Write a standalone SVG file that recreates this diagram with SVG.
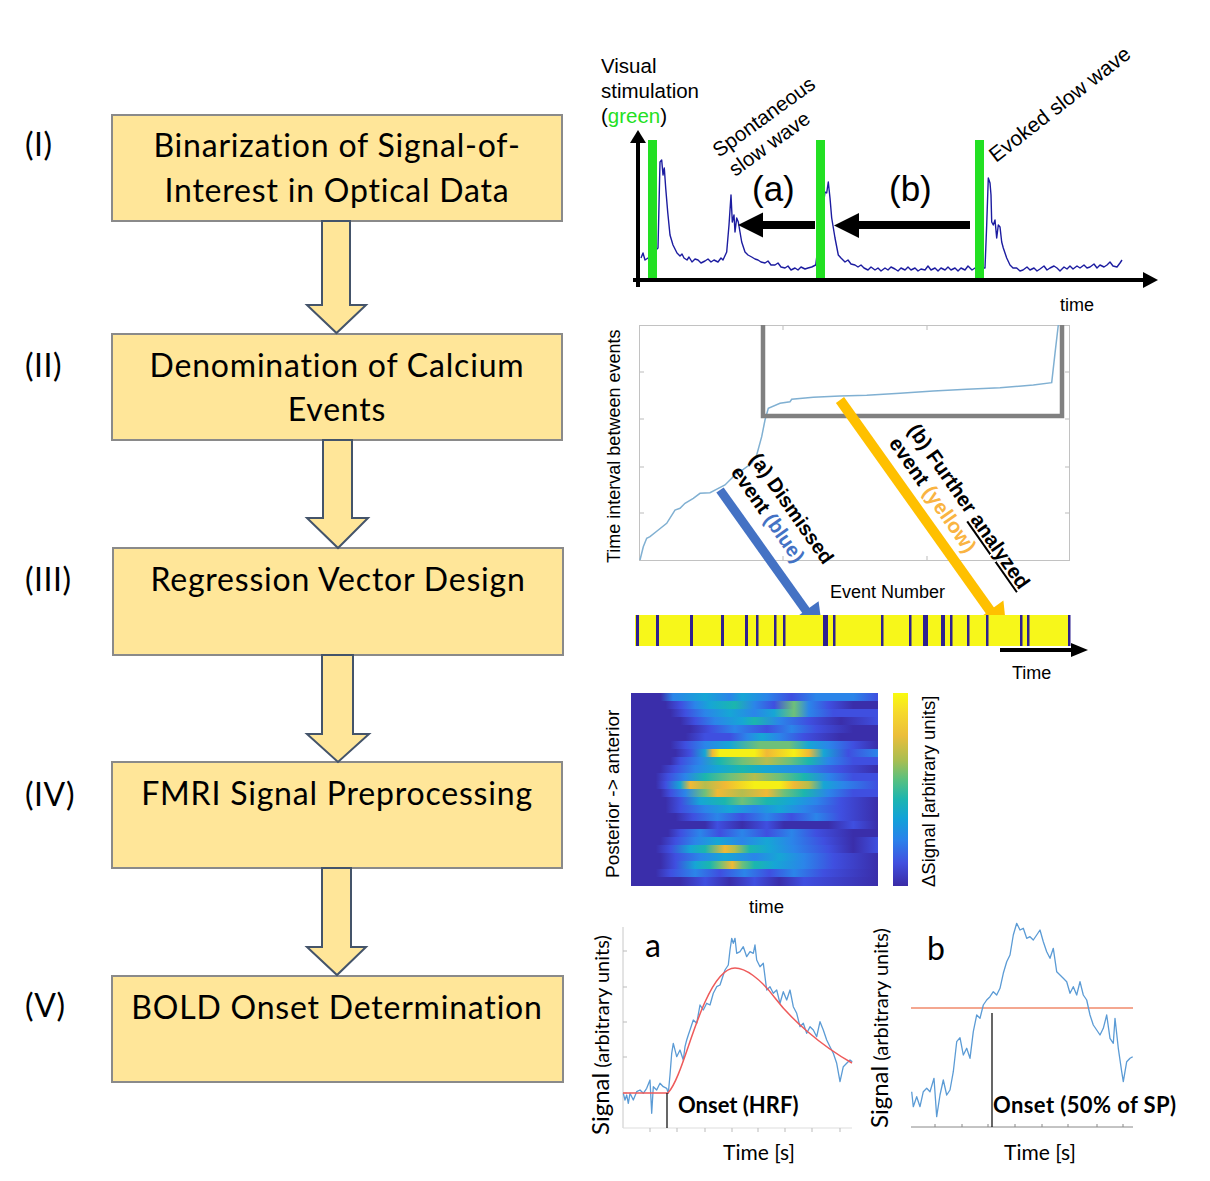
<svg xmlns="http://www.w3.org/2000/svg" width="1210" height="1181" viewBox="0 0 1210 1181">
<style>
.box{fill:#FFE699;stroke:#8A8A8A;stroke-width:2}
.blk{fill:#FFE699;stroke:#44546A;stroke-width:2;stroke-linejoin:miter}
.lbl{font-family:Lato,"Open Sans",sans-serif;font-size:32px;fill:#000;letter-spacing:0.5px}
.bt{font-family:Lato,"Open Sans",sans-serif;font-size:32px;fill:#000;text-anchor:middle;letter-spacing:0.8px}
.ar{font-family:"Liberation Sans",Arial,sans-serif;fill:#000}
.cal{font-family:Lato,"Open Sans",sans-serif;fill:#000}
.trace{fill:none;stroke:#1C1CA0;stroke-width:1.4;stroke-linejoin:round}
.sig{fill:none;stroke:#5B9BD5;stroke-width:1.3;stroke-linejoin:round}
.tick{stroke:#BBBBBB;stroke-width:1}
</style>
<defs>
<linearGradient id="cbar" x1="0" y1="0" x2="0" y2="1">
<stop offset="0" stop-color="#F9FB0E"/><stop offset="0.1" stop-color="#F6D92C"/><stop offset="0.22" stop-color="#EBBE3A"/><stop offset="0.35" stop-color="#A8BE52"/><stop offset="0.45" stop-color="#58C080"/><stop offset="0.55" stop-color="#1DB5B0"/><stop offset="0.65" stop-color="#12A2D8"/><stop offset="0.76" stop-color="#2A82EB"/><stop offset="0.88" stop-color="#4150DF"/><stop offset="1" stop-color="#3A2BA6"/>
</linearGradient>
</defs>

<!-- Left flowchart nodes -->
<g id="label-I"><text class="lbl" x="25" y="156">(I)</text></g>
<g id="label-II"><text class="lbl" x="25" y="377">(II)</text></g>
<g id="label-III"><text class="lbl" x="25" y="591">(III)</text></g>
<g id="label-IV"><text class="lbl" x="25" y="806">(IV)</text></g>
<g id="label-V"><text class="lbl" x="25" y="1017">(V)</text></g>

<g id="node-1"><rect class="box" x="112" y="115" width="450" height="106"/><text class="bt" x="337" y="157">Binarization of Signal-of-</text><text class="bt" x="337" y="202">Interest in Optical Data</text></g>
<g id="node-2"><rect class="box" x="112" y="334" width="450" height="106"/><text class="bt" x="337" y="377">Denomination of Calcium</text><text class="bt" x="337" y="421">Events</text></g>
<g id="node-3"><rect class="box" x="113" y="548" width="450" height="107"/><text class="bt" x="338" y="591">Regression Vector Design</text></g>
<g id="node-4"><rect class="box" x="112" y="762" width="450" height="106"/><text class="bt" x="337" y="805">FMRI Signal Preprocessing</text></g>
<g id="node-5"><rect class="box" x="112" y="976" width="451" height="106"/><text class="bt" x="337" y="1019">BOLD Onset Determination</text></g>

<g id="connectors">
<polygon class="blk" points="322,221 350,221 350,305 366,305 336.5,333 307,305 322,305"/>
<polygon class="blk" points="323,440 352,440 352,518 368,518 338,548 307,518 323,518"/>
<polygon class="blk" points="322,655 353,655 353,734 369,734 338,762 307,734 322,734"/>
<polygon class="blk" points="322,868 351,868 351,947 366,947 337,975 307,947 322,947"/>
</g>

<!-- Panel I: optical signal -->
<g id="panel-optical">
<text class="ar" x="601" y="73" font-size="20.5">Visual</text>
<text class="ar" x="601" y="98" font-size="20.5">stimulation</text>
<text class="ar" x="601" y="123" font-size="20.5">(<tspan fill="#22E022">green</tspan>)</text>
<polyline class="trace" points="641,258 643,253 645,260 648,258 658,248 660,162 661.7,160 663,175 664.3,168 665.7,188 667.7,212 670,235 673,245 677,253 680,256 682,254 684,258 687,260 689,257 692,262 695,259 698,260 701,263 705,261 708,259 711,262 714,260 718,262 721,258 723,260 726.7,252 729,225 731,195 732.3,222 734,215 735,232 736.7,218 738.3,222 740,232 741.7,242 745,252 748,255 751.7,257 755,259 758,260 761,262 765,263 768,261 771,265 775,265 778,263 781,267 785,268 788,266 791,270 795,268 798,270 801,267 805,269 808,268 811.7,267 815.7,265 825,192 826.7,193 828.3,182 830,198 831.7,218 835,238 838.3,255 841,258 845,262 848,260 851,264 855,265 858,267 861,265 864,268 868,270 871,267 875,270 878,268 881,271 885,268 888,270 891,267 895,269 898,271 901,268 905,270 908,267 911,270 915,268 918,271 921,269 925,270 928,266 931,270 935,268 938,271 941,268 945,270 948,267 951,270 955,268 958,271 961,268 965,270 968,266 972,270 975,268 985,268 986.7,225 988.3,178 990,183 991,195 991.7,222 993.3,225 995,220 996.7,238 998.3,225 1000,227 1001.7,242 1003.3,248 1006.7,258 1010,265 1013,268 1016.7,268 1020,271 1023,270 1027,267 1030,270 1034,268 1037,271 1040,269 1044,266 1047,270 1050,268 1054,266 1057,268 1060,271 1064,267 1067,269 1070,266 1073,269 1077,266 1080,268 1084,265 1087,268 1090,267 1094,264 1097,268 1100,265 1104,267 1107,265 1110,262 1113,266 1117,267 1120,263 1122,260"/>
<rect x="648" y="140" width="9" height="138" fill="#22E022"/>
<rect x="816" y="140" width="9" height="138" fill="#22E022"/>
<rect x="975" y="140" width="9" height="138" fill="#22E022"/>
<line x1="638" y1="141" x2="638" y2="287" stroke="#000" stroke-width="4"/>
<polygon points="638,130 646,143 630,143" fill="#000"/>
<line x1="633" y1="280" x2="1145" y2="280" stroke="#000" stroke-width="4"/>
<polygon points="1158,280 1143,272 1143,288" fill="#000"/>
<rect x="760" y="221" width="55" height="8" fill="#000"/>
<polygon points="738,225 763,212.5 763,237.5" fill="#000"/>
<rect x="856" y="221" width="114" height="8" fill="#000"/>
<polygon points="834,225.5 859,213 859,238" fill="#000"/>
<text class="ar" x="752" y="201" font-size="35">(a)</text>
<text class="ar" x="889" y="201" font-size="35">(b)</text>
<g transform="translate(719,158) rotate(-36)"><text class="ar" x="0" y="0" font-size="20.5">Spontaneous</text><text class="ar" x="2" y="25" font-size="20.5">slow wave</text></g>
<text class="ar" transform="translate(996,163) rotate(-38)" font-size="21">Evoked slow wave</text>
<text class="ar" x="1060" y="311" font-size="18">time</text>
</g>

<!-- Panel II: event intervals -->
<g id="panel-events">
<rect x="639.5" y="325.5" width="430" height="235" fill="none" stroke="#C2C2C2" stroke-width="1"/>
<path class="tick" d="M640,372h4M640,419h4M640,467h4M640,513h4M1069,372h-4M1069,419h-4M1069,467h-4M1069,513h-4M783,326v4M927,326v4M783,560v-4M927,560v-4"/>
<polyline fill="none" stroke="#80B0D2" stroke-width="1.5" points="640,560 643.3,546.7 646.7,538.3 650,536.7 658.3,530 666.7,523.3 675,510 680,508.3 685,503.3 693.3,498.3 700,493.3 710,492.7 718.3,488.3 725,485 731.7,478.3 736.7,472.7 743.3,469.3 751.7,463.3 756.7,455 761.7,436.7 765,420 768.3,408.3 780,403.3 790,401.7 791.7,399.3 813.3,397.3 840,396 866.7,395.3 900,393.3 933.3,391 966.7,389.3 1000,387.7 1033.3,385 1051.7,382.7 1055,353.3 1058.3,325"/>
<polyline fill="none" stroke="#808080" stroke-width="4.5" points="763,325 763,416 1062,416 1062,325"/>
<text class="ar" transform="translate(620,563) rotate(-90)" font-size="18">Time interval between events</text>
<line x1="720" y1="490" x2="807" y2="612" stroke="#4472C4" stroke-width="9"/>
<polygon points="823,635 792.6,619.8 818.6,601.2" fill="#4472C4"/>
<line x1="840" y1="400" x2="991" y2="612" stroke="#FFC000" stroke-width="10"/>
<polygon points="1007,635 975.8,620.4 1003.4,600.6" fill="#FFC000"/>
<g transform="translate(749,459) rotate(55)" class="ar" font-size="20" font-weight="bold"><text x="0" y="0">(a) Dismissed</text><text x="0" y="23">event <tspan fill="#4472C4">(blue)</tspan></text></g>
<g transform="translate(907,430) rotate(55)" class="ar" font-size="20.5" font-weight="bold"><text x="0" y="0">(b) Further <tspan text-decoration="underline">analyzed</tspan></text><text x="0" y="23">event <tspan fill="#F9B442">(yellow)</tspan></text></g>
<text class="ar" x="830" y="598" font-size="18">Event Number</text>
<rect x="635" y="615" width="435" height="31" fill="#F7F71A"/>
<g fill="#2E2090">
<rect x="636" y="615" width="3" height="31"/><rect x="656" y="615" width="3" height="31"/><rect x="690" y="615" width="3" height="31"/><rect x="721" y="615" width="3" height="31"/><rect x="745" y="615" width="3" height="31"/><rect x="756" y="615" width="2.5" height="31"/><rect x="774" y="615" width="2.5" height="31"/><rect x="783" y="615" width="2.5" height="31"/><rect x="823" y="615" width="5" height="31"/><rect x="833" y="615" width="2.5" height="31"/><rect x="881" y="615" width="2.5" height="31"/><rect x="909" y="615" width="2.5" height="31"/><rect x="923" y="615" width="5" height="31"/><rect x="941" y="615" width="4" height="31"/><rect x="950" y="615" width="2.5" height="31"/><rect x="967" y="615" width="2.5" height="31"/><rect x="986" y="615" width="2.5" height="31"/><rect x="1020" y="615" width="2.5" height="31"/><rect x="1027" y="615" width="2.5" height="31"/><rect x="1068" y="615" width="2.5" height="31"/>
</g>
<line x1="1000" y1="650" x2="1072" y2="650" stroke="#000" stroke-width="4"/>
<polygon points="1088,650 1071,643 1071,657" fill="#000"/>
<text class="ar" x="1012" y="679" font-size="18">Time</text>
</g>

<!-- Panel IV: heatmap -->
<g id="panel-heatmap">
<defs>
<linearGradient id="r0" gradientUnits="userSpaceOnUse" x1="631" x2="878" y1="0" y2="0"><stop offset="0" stop-color="#3A2EAA"/><stop offset=".12" stop-color="#3A2EAA"/><stop offset=".17" stop-color="#2B85E9"/><stop offset=".3" stop-color="#16A6D5"/><stop offset=".4" stop-color="#2B85E9"/><stop offset=".45" stop-color="#16A6D5"/><stop offset=".55" stop-color="#2B85E9"/><stop offset=".65" stop-color="#3F4FE0"/><stop offset=".75" stop-color="#2B85E9"/><stop offset=".9" stop-color="#2B85E9"/><stop offset="1" stop-color="#3F4FE0"/></linearGradient>
<linearGradient id="r1" gradientUnits="userSpaceOnUse" x1="631" x2="878" y1="0" y2="0"><stop offset="0" stop-color="#3A2EAA"/><stop offset=".14" stop-color="#3A2EAA"/><stop offset=".2" stop-color="#3F4FE0"/><stop offset=".26" stop-color="#2B85E9"/><stop offset=".32" stop-color="#16A6D5"/><stop offset=".42" stop-color="#1BB6AE"/><stop offset=".5" stop-color="#2B85E9"/><stop offset=".58" stop-color="#3F4FE0"/><stop offset=".66" stop-color="#6EC07A"/><stop offset=".72" stop-color="#2B85E9"/><stop offset=".8" stop-color="#3F4FE0"/><stop offset=".9" stop-color="#3A2EAA"/><stop offset="1" stop-color="#3A2EAA"/></linearGradient>
<linearGradient id="r2" gradientUnits="userSpaceOnUse" x1="631" x2="878" y1="0" y2="0"><stop offset="0" stop-color="#3A2EAA"/><stop offset=".16" stop-color="#3A2EAA"/><stop offset=".22" stop-color="#3F4FE0"/><stop offset=".3" stop-color="#2B85E9"/><stop offset=".4" stop-color="#16A6D5"/><stop offset=".5" stop-color="#2B85E9"/><stop offset=".58" stop-color="#16A6D5"/><stop offset=".66" stop-color="#6EC07A"/><stop offset=".72" stop-color="#2B85E9"/><stop offset=".82" stop-color="#3F4FE0"/><stop offset="1" stop-color="#3F4FE0"/></linearGradient>
<linearGradient id="r3" gradientUnits="userSpaceOnUse" x1="631" x2="878" y1="0" y2="0"><stop offset="0" stop-color="#3A2EAA"/><stop offset=".2" stop-color="#3A2EAA"/><stop offset=".26" stop-color="#3F4FE0"/><stop offset=".34" stop-color="#2B85E9"/><stop offset=".45" stop-color="#16A6D5"/><stop offset=".5" stop-color="#1BB6AE"/><stop offset=".6" stop-color="#2B85E9"/><stop offset=".72" stop-color="#3F4FE0"/><stop offset=".85" stop-color="#3A2EAA"/><stop offset="1" stop-color="#3F4FE0"/></linearGradient>
<linearGradient id="r4" gradientUnits="userSpaceOnUse" x1="631" x2="878" y1="0" y2="0"><stop offset="0" stop-color="#3A2EAA"/><stop offset=".24" stop-color="#3A2EAA"/><stop offset=".32" stop-color="#3F4FE0"/><stop offset=".42" stop-color="#2B85E9"/><stop offset=".55" stop-color="#3F4FE0"/><stop offset=".65" stop-color="#2B85E9"/><stop offset=".75" stop-color="#3F4FE0"/><stop offset=".9" stop-color="#3A2EAA"/><stop offset="1" stop-color="#3A2EAA"/></linearGradient>
<linearGradient id="r5" gradientUnits="userSpaceOnUse" x1="631" x2="878" y1="0" y2="0"><stop offset="0" stop-color="#3A2EAA"/><stop offset=".22" stop-color="#3A2EAA"/><stop offset=".3" stop-color="#3F4FE0"/><stop offset=".4" stop-color="#3F4FE0"/><stop offset=".47" stop-color="#2B85E9"/><stop offset=".53" stop-color="#16A6D5"/><stop offset=".6" stop-color="#2B85E9"/><stop offset=".7" stop-color="#3F4FE0"/><stop offset=".85" stop-color="#3A2EAA"/><stop offset="1" stop-color="#3A2EAA"/></linearGradient>
<linearGradient id="r6" gradientUnits="userSpaceOnUse" x1="631" x2="878" y1="0" y2="0"><stop offset="0" stop-color="#3A2EAA"/><stop offset=".16" stop-color="#3A2EAA"/><stop offset=".22" stop-color="#3F4FE0"/><stop offset=".3" stop-color="#2B85E9"/><stop offset=".4" stop-color="#16A6D5"/><stop offset=".52" stop-color="#6EC07A"/><stop offset=".64" stop-color="#6EC07A"/><stop offset=".72" stop-color="#16A6D5"/><stop offset=".8" stop-color="#2B85E9"/><stop offset=".9" stop-color="#3F4FE0"/><stop offset="1" stop-color="#3A2EAA"/></linearGradient>
<linearGradient id="r7" gradientUnits="userSpaceOnUse" x1="631" x2="878" y1="0" y2="0"><stop offset="0" stop-color="#3A2EAA"/><stop offset=".18" stop-color="#3A2EAA"/><stop offset=".24" stop-color="#3F4FE0"/><stop offset=".3" stop-color="#16A6D5"/><stop offset=".33" stop-color="#F0B936"/><stop offset=".36" stop-color="#F5F016"/><stop offset=".5" stop-color="#F5F016"/><stop offset=".55" stop-color="#F0B936"/><stop offset=".66" stop-color="#F5F016"/><stop offset=".72" stop-color="#F0B936"/><stop offset=".78" stop-color="#16A6D5"/><stop offset=".88" stop-color="#3F4FE0"/><stop offset="1" stop-color="#2B85E9"/></linearGradient>
<linearGradient id="r8" gradientUnits="userSpaceOnUse" x1="631" x2="878" y1="0" y2="0"><stop offset="0" stop-color="#3A2EAA"/><stop offset=".16" stop-color="#3A2EAA"/><stop offset=".2" stop-color="#3F4FE0"/><stop offset=".28" stop-color="#2B85E9"/><stop offset=".36" stop-color="#1BB6AE"/><stop offset=".45" stop-color="#6EC07A"/><stop offset=".55" stop-color="#B5BD4E"/><stop offset=".64" stop-color="#6EC07A"/><stop offset=".72" stop-color="#1BB6AE"/><stop offset=".8" stop-color="#2B85E9"/><stop offset=".9" stop-color="#3F4FE0"/><stop offset="1" stop-color="#3F4FE0"/></linearGradient>
<linearGradient id="r9" gradientUnits="userSpaceOnUse" x1="631" x2="878" y1="0" y2="0"><stop offset="0" stop-color="#3A2EAA"/><stop offset=".12" stop-color="#3A2EAA"/><stop offset=".18" stop-color="#3F4FE0"/><stop offset=".26" stop-color="#2B85E9"/><stop offset=".35" stop-color="#16A6D5"/><stop offset=".45" stop-color="#1BB6AE"/><stop offset=".55" stop-color="#16A6D5"/><stop offset=".7" stop-color="#2B85E9"/><stop offset=".85" stop-color="#3F4FE0"/><stop offset="1" stop-color="#3A2EAA"/></linearGradient>
<linearGradient id="r10" gradientUnits="userSpaceOnUse" x1="631" x2="878" y1="0" y2="0"><stop offset="0" stop-color="#3A2EAA"/><stop offset=".1" stop-color="#3A2EAA"/><stop offset=".15" stop-color="#3F4FE0"/><stop offset=".22" stop-color="#2B85E9"/><stop offset=".3" stop-color="#1BB6AE"/><stop offset=".4" stop-color="#6EC07A"/><stop offset=".5" stop-color="#B5BD4E"/><stop offset=".6" stop-color="#6EC07A"/><stop offset=".7" stop-color="#1BB6AE"/><stop offset=".8" stop-color="#2B85E9"/><stop offset=".9" stop-color="#3F4FE0"/><stop offset="1" stop-color="#3F4FE0"/></linearGradient>
<linearGradient id="r11" gradientUnits="userSpaceOnUse" x1="631" x2="878" y1="0" y2="0"><stop offset="0" stop-color="#3A2EAA"/><stop offset=".1" stop-color="#3A2EAA"/><stop offset=".14" stop-color="#3F4FE0"/><stop offset=".2" stop-color="#16A6D5"/><stop offset=".24" stop-color="#F0B936"/><stop offset=".3" stop-color="#B5BD4E"/><stop offset=".38" stop-color="#F0B936"/><stop offset=".5" stop-color="#F5F016"/><stop offset=".6" stop-color="#F5F016"/><stop offset=".66" stop-color="#F0B936"/><stop offset=".72" stop-color="#B5BD4E"/><stop offset=".78" stop-color="#16A6D5"/><stop offset=".86" stop-color="#2B85E9"/><stop offset="1" stop-color="#3F4FE0"/></linearGradient>
<linearGradient id="r12" gradientUnits="userSpaceOnUse" x1="631" x2="878" y1="0" y2="0"><stop offset="0" stop-color="#3A2EAA"/><stop offset=".12" stop-color="#3A2EAA"/><stop offset=".16" stop-color="#3F4FE0"/><stop offset=".22" stop-color="#2B85E9"/><stop offset=".3" stop-color="#6EC07A"/><stop offset=".35" stop-color="#F0B936"/><stop offset=".45" stop-color="#B5BD4E"/><stop offset=".55" stop-color="#F0B936"/><stop offset=".62" stop-color="#6EC07A"/><stop offset=".7" stop-color="#1BB6AE"/><stop offset=".8" stop-color="#2B85E9"/><stop offset=".9" stop-color="#3F4FE0"/><stop offset="1" stop-color="#3F4FE0"/></linearGradient>
<linearGradient id="r13" gradientUnits="userSpaceOnUse" x1="631" x2="878" y1="0" y2="0"><stop offset="0" stop-color="#3A2EAA"/><stop offset=".14" stop-color="#3A2EAA"/><stop offset=".2" stop-color="#3F4FE0"/><stop offset=".28" stop-color="#16A6D5"/><stop offset=".38" stop-color="#1BB6AE"/><stop offset=".45" stop-color="#6EC07A"/><stop offset=".55" stop-color="#1BB6AE"/><stop offset=".65" stop-color="#16A6D5"/><stop offset=".75" stop-color="#2B85E9"/><stop offset=".85" stop-color="#3F4FE0"/><stop offset="1" stop-color="#3A2EAA"/></linearGradient>
<linearGradient id="r14" gradientUnits="userSpaceOnUse" x1="631" x2="878" y1="0" y2="0"><stop offset="0" stop-color="#3A2EAA"/><stop offset=".14" stop-color="#3A2EAA"/><stop offset=".2" stop-color="#3F4FE0"/><stop offset=".3" stop-color="#2B85E9"/><stop offset=".4" stop-color="#16A6D5"/><stop offset=".5" stop-color="#2B85E9"/><stop offset=".6" stop-color="#16A6D5"/><stop offset=".7" stop-color="#2B85E9"/><stop offset=".85" stop-color="#3F4FE0"/><stop offset="1" stop-color="#3A2EAA"/></linearGradient>
<linearGradient id="r15" gradientUnits="userSpaceOnUse" x1="631" x2="878" y1="0" y2="0"><stop offset="0" stop-color="#3A2EAA"/><stop offset=".18" stop-color="#3A2EAA"/><stop offset=".25" stop-color="#3F4FE0"/><stop offset=".35" stop-color="#2B85E9"/><stop offset=".45" stop-color="#3F4FE0"/><stop offset=".55" stop-color="#2B85E9"/><stop offset=".65" stop-color="#3F4FE0"/><stop offset=".75" stop-color="#2B85E9"/><stop offset=".85" stop-color="#3F4FE0"/><stop offset="1" stop-color="#3A2EAA"/></linearGradient>
<linearGradient id="r16" gradientUnits="userSpaceOnUse" x1="631" x2="878" y1="0" y2="0"><stop offset="0" stop-color="#3A2EAA"/><stop offset=".3" stop-color="#3A2EAA"/><stop offset=".35" stop-color="#3F4FE0"/><stop offset=".45" stop-color="#3A2EAA"/><stop offset=".55" stop-color="#3F4FE0"/><stop offset=".62" stop-color="#3A2EAA"/><stop offset=".8" stop-color="#3A2EAA"/><stop offset=".9" stop-color="#3F4FE0"/><stop offset="1" stop-color="#3A2EAA"/></linearGradient>
<linearGradient id="r17" gradientUnits="userSpaceOnUse" x1="631" x2="878" y1="0" y2="0"><stop offset="0" stop-color="#3A2EAA"/><stop offset=".15" stop-color="#3A2EAA"/><stop offset=".2" stop-color="#3F4FE0"/><stop offset=".28" stop-color="#2B85E9"/><stop offset=".36" stop-color="#3F4FE0"/><stop offset=".45" stop-color="#2B85E9"/><stop offset=".55" stop-color="#3F4FE0"/><stop offset=".65" stop-color="#2B85E9"/><stop offset=".75" stop-color="#3F4FE0"/><stop offset=".9" stop-color="#3A2EAA"/><stop offset="1" stop-color="#3A2EAA"/></linearGradient>
<linearGradient id="r18" gradientUnits="userSpaceOnUse" x1="631" x2="878" y1="0" y2="0"><stop offset="0" stop-color="#3A2EAA"/><stop offset=".12" stop-color="#3A2EAA"/><stop offset=".18" stop-color="#3F4FE0"/><stop offset=".26" stop-color="#2B85E9"/><stop offset=".35" stop-color="#16A6D5"/><stop offset=".45" stop-color="#2B85E9"/><stop offset=".55" stop-color="#16A6D5"/><stop offset=".65" stop-color="#2B85E9"/><stop offset=".78" stop-color="#3F4FE0"/><stop offset=".9" stop-color="#3A2EAA"/><stop offset="1" stop-color="#3F4FE0"/></linearGradient>
<linearGradient id="r19" gradientUnits="userSpaceOnUse" x1="631" x2="878" y1="0" y2="0"><stop offset="0" stop-color="#3A2EAA"/><stop offset=".1" stop-color="#3A2EAA"/><stop offset=".16" stop-color="#3F4FE0"/><stop offset=".24" stop-color="#16A6D5"/><stop offset=".3" stop-color="#1BB6AE"/><stop offset=".38" stop-color="#F0B936"/><stop offset=".42" stop-color="#B5BD4E"/><stop offset=".48" stop-color="#1BB6AE"/><stop offset=".56" stop-color="#16A6D5"/><stop offset=".66" stop-color="#2B85E9"/><stop offset=".8" stop-color="#3F4FE0"/><stop offset=".9" stop-color="#3A2EAA"/><stop offset="1" stop-color="#3F4FE0"/></linearGradient>
<linearGradient id="r20" gradientUnits="userSpaceOnUse" x1="631" x2="878" y1="0" y2="0"><stop offset="0" stop-color="#3A2EAA"/><stop offset=".12" stop-color="#3A2EAA"/><stop offset=".18" stop-color="#3F4FE0"/><stop offset=".28" stop-color="#2B85E9"/><stop offset=".38" stop-color="#16A6D5"/><stop offset=".5" stop-color="#2B85E9"/><stop offset=".6" stop-color="#16A6D5"/><stop offset=".7" stop-color="#2B85E9"/><stop offset=".82" stop-color="#3F4FE0"/><stop offset="1" stop-color="#3A2EAA"/></linearGradient>
<linearGradient id="r21" gradientUnits="userSpaceOnUse" x1="631" x2="878" y1="0" y2="0"><stop offset="0" stop-color="#3A2EAA"/><stop offset=".12" stop-color="#3A2EAA"/><stop offset=".18" stop-color="#3F4FE0"/><stop offset=".26" stop-color="#16A6D5"/><stop offset=".32" stop-color="#1BB6AE"/><stop offset=".36" stop-color="#6EC07A"/><stop offset=".41" stop-color="#F0B936"/><stop offset=".45" stop-color="#6EC07A"/><stop offset=".5" stop-color="#1BB6AE"/><stop offset=".58" stop-color="#16A6D5"/><stop offset=".7" stop-color="#2B85E9"/><stop offset=".82" stop-color="#3F4FE0"/><stop offset="1" stop-color="#3A2EAA"/></linearGradient>
<linearGradient id="r22" gradientUnits="userSpaceOnUse" x1="631" x2="878" y1="0" y2="0"><stop offset="0" stop-color="#3A2EAA"/><stop offset=".1" stop-color="#3A2EAA"/><stop offset=".16" stop-color="#3F4FE0"/><stop offset=".26" stop-color="#2B85E9"/><stop offset=".36" stop-color="#3F4FE0"/><stop offset=".46" stop-color="#2B85E9"/><stop offset=".56" stop-color="#3F4FE0"/><stop offset=".66" stop-color="#2B85E9"/><stop offset=".78" stop-color="#3F4FE0"/><stop offset="1" stop-color="#3A2EAA"/></linearGradient>
<linearGradient id="r23" gradientUnits="userSpaceOnUse" x1="631" x2="878" y1="0" y2="0"><stop offset="0" stop-color="#3A2EAA"/><stop offset=".2" stop-color="#3A2EAA"/><stop offset=".3" stop-color="#3F4FE0"/><stop offset=".4" stop-color="#3A2EAA"/><stop offset=".5" stop-color="#3F4FE0"/><stop offset=".6" stop-color="#3A2EAA"/><stop offset=".7" stop-color="#3F4FE0"/><stop offset="1" stop-color="#3A2EAA"/></linearGradient>
</defs>
<rect x="631" y="693" width="247" height="8" fill="url(#r0)"/>
<rect x="631" y="701" width="247" height="8" fill="url(#r1)"/>
<rect x="631" y="709" width="247" height="8" fill="url(#r2)"/>
<rect x="631" y="717" width="247" height="8" fill="url(#r3)"/>
<rect x="631" y="725" width="247" height="8" fill="url(#r4)"/>
<rect x="631" y="733" width="247" height="8" fill="url(#r5)"/>
<rect x="631" y="741" width="247" height="8" fill="url(#r6)"/>
<rect x="631" y="749" width="247" height="8" fill="url(#r7)"/>
<rect x="631" y="757" width="247" height="8" fill="url(#r8)"/>
<rect x="631" y="765" width="247" height="8" fill="url(#r9)"/>
<rect x="631" y="773" width="247" height="8" fill="url(#r10)"/>
<rect x="631" y="781" width="247" height="8" fill="url(#r11)"/>
<rect x="631" y="789" width="247" height="8" fill="url(#r12)"/>
<rect x="631" y="797" width="247" height="8" fill="url(#r13)"/>
<rect x="631" y="805" width="247" height="8" fill="url(#r14)"/>
<rect x="631" y="813" width="247" height="8" fill="url(#r15)"/>
<rect x="631" y="821" width="247" height="8" fill="url(#r16)"/>
<rect x="631" y="829" width="247" height="8" fill="url(#r17)"/>
<rect x="631" y="837" width="247" height="8" fill="url(#r18)"/>
<rect x="631" y="845" width="247" height="8" fill="url(#r19)"/>
<rect x="631" y="853" width="247" height="8" fill="url(#r20)"/>
<rect x="631" y="861" width="247" height="8" fill="url(#r21)"/>
<rect x="631" y="869" width="247" height="8" fill="url(#r22)"/>
<rect x="631" y="877" width="247" height="9" fill="url(#r23)"/>
<rect x="893" y="693" width="15" height="193" fill="url(#cbar)"/>
<text class="ar" transform="translate(619,878) rotate(-90)" font-size="19">Posterior -&gt; anterior</text>
<text class="ar" transform="translate(935,887) rotate(-90)" font-size="18.5">ΔSignal [arbitrary units]</text>
<text class="ar" x="749" y="913" font-size="18.5">time</text>
</g>

<!-- Panel V: onset plots -->
<g id="panel-onset-a">
<line x1="623" y1="927" x2="623" y2="1128" stroke="#C8C8C8" stroke-width="1"/>
<line x1="623" y1="1128" x2="852" y2="1128" stroke="#DDDDDD" stroke-width="1"/>
<path class="tick" d="M623,951h4M623,987h4M623,1022h4M623,1057h4M623,1093h4M650,1128v4M677,1128v4M705,1128v4M732,1128v4M758,1128v4M785,1128v4M812,1128v4M840,1128v4"/>
<polyline class="sig" points="623.3,1093.3 625,1100 626.7,1095 628.3,1103.3 630,1093.3 633.3,1100 636.7,1091.7 640,1090 643.3,1093.3 646.7,1088.3 650,1080 651.7,1113.3 653.3,1086.7 656.7,1090 660,1083.3 663.3,1086.7 666.7,1088.3 668.3,1093.3 670,1075 671.7,1053.3 673.3,1043.3 676.7,1056.7 680,1050 683.3,1060 685,1046.7 686.7,1040 688.3,1035 690,1030 693.3,1020 696.7,1023.3 700,1005 703.3,1010 706.7,1003.3 710,1005 713.3,993.3 716.7,986.7 720,985 723.3,975 725,970 728.3,965 730,950 731.7,938.3 733.3,943.3 735,938.3 736.7,953.3 740,951.7 743.3,946.7 746.7,956.7 750,951.7 753.3,953.3 755,945 756.7,960 760,966.7 763.3,963.3 766.7,990 770,986.7 773.3,993.3 776.7,990 780,1003.3 783.3,991.7 786.7,1000 790,990 793.3,1006.7 796.7,1013.3 800,1026.7 803.3,1023.3 806.7,1033.3 810,1026.7 813.3,1030 816.7,1036.7 820,1021.7 823.3,1030 826.7,1040 830,1046.7 833.3,1053.3 836.7,1063.3 840,1081.7 843.3,1066.7 846.7,1063.3 850,1060 852.3,1061.7"/>
<path d="M623,1093 L668,1093 C680,1080 690,1035 705,1002 C715,980 725,968 735,968 C745,968 760,978 775,998 C790,1018 820,1045 852,1063" fill="none" stroke="#EE5A5A" stroke-width="1.5"/>
<line x1="667" y1="1093" x2="667" y2="1128" stroke="#000" stroke-width="1.2"/>
<text class="cal" x="645" y="957" font-size="32">a</text>
<text class="cal" x="678" y="1113" font-size="22" font-weight="bold">Onset (HRF)</text>
<text class="cal" transform="translate(609,1135) rotate(-90)"><tspan font-size="24">Signal</tspan><tspan font-size="20"> (arbitrary units)</tspan></text>
<text class="cal" x="759" y="1160" font-size="21" text-anchor="middle">Time [s]</text>
</g>

<g id="panel-onset-b">
<line x1="911" y1="1127" x2="1133" y2="1127" stroke="#888888" stroke-width="1"/>
<path d="M935,1127v-3M962,1127v-3M988,1127v-3M1015,1127v-3M1042,1127v-3M1068,1127v-3M1097,1127v-3M1123,1127v-3" stroke="#888888" stroke-width="1"/>
<line x1="911" y1="1008" x2="1133" y2="1008" stroke="#F08A6B" stroke-width="1.3"/>
<polyline class="sig" points="911.7,1091.7 913.3,1106.7 916.7,1096.7 920,1106.7 923.3,1091.7 926.7,1088.3 930,1091.7 934,1078.3 936.7,1116.7 940,1095 943.3,1080 946.7,1095 950,1090 953.3,1071.7 956.7,1041.7 960,1037.7 963.3,1055 966.7,1048.3 970,1058.3 973.3,1031.7 976.7,1015 980,1018.3 983.3,1005 986.7,1000 990,996.7 993.3,991.7 996.7,995 1000,988.3 1003.3,973.3 1006.7,961.7 1010,955 1013.3,935 1016.7,923.3 1020,930 1023.3,928.3 1026.7,938.3 1030,936.7 1033.3,940 1036.7,935 1040,930 1043.3,941.7 1046.7,951.7 1050,958.3 1053.3,948.3 1056.7,971.7 1060,975 1063.3,978.3 1066.7,981.7 1070,993.3 1073.3,986.7 1076.7,995 1080,981.7 1083.3,995 1086.7,1000 1090,1015 1093.3,1025 1096.7,1030 1100,1035 1103.3,1028.3 1106.7,1015 1110,1038.3 1113.3,1043.3 1115,1018.3 1118.3,1048.3 1121.7,1071.7 1123.3,1081.7 1126.7,1061.7 1130,1058.3 1132.7,1056.7"/>
<line x1="992" y1="1013" x2="992" y2="1127" stroke="#000" stroke-width="1.2"/>
<text class="cal" x="927" y="960" font-size="32">b</text>
<text class="cal" x="993" y="1113" font-size="22" font-weight="bold" letter-spacing="0.4">Onset (50% of SP)</text>
<text class="cal" transform="translate(888,1128) rotate(-90)"><tspan font-size="24">Signal</tspan><tspan font-size="20"> (arbitrary units)</tspan></text>
<text class="cal" x="1040" y="1160" font-size="21" text-anchor="middle">Time [s]</text>
</g>
</svg>
